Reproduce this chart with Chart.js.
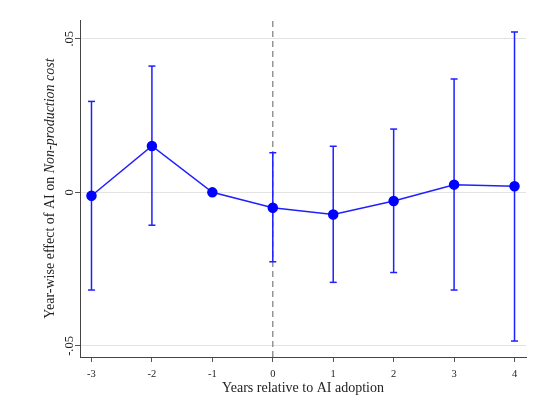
<!DOCTYPE html>
<html>
<head>
<meta charset="utf-8">
<script src="https://cdn.jsdelivr.net/npm/chart.js@4/dist/chart.umd.min.js"></script>
<style>
  html, body { margin: 0; padding: 0; background: #ffffff; }
  #wrap { width: 547px; height: 402px; }
</style>
</head>
<body>
<div id="wrap"><canvas id="c" width="547" height="402"></canvas></div>
<script>
// ---- Data ----
const years = [-3, -2, -1, 0, 1, 2, 3, 4];
const estimates = [-0.0011, 0.0151, 0.0, -0.0050, -0.0072, -0.0028, 0.0025, 0.0020];
const ciLow  = [-0.0318, -0.0107, null, -0.0226, -0.0293, -0.0261, -0.0318, -0.0484];
const ciHigh = [ 0.0296,  0.0411, null,  0.0129,  0.0150,  0.0206,  0.0369,  0.0522];
const xTicks = [-3, -2, -1, 0, 1, 2, 3, 4];
const yTicks = [-0.05, 0, 0.05];
const yTickLabels = ['-.05', '0', '.05'];
const eventYear = 0;
const xLimits = [-3.19, 4.19];
const yLimits = [-0.0536, 0.0561];
const xTitle = 'Years relative to AI adoption';
const yTitleParts = [
  { text: 'Year-wise effect of AI on ', italic: false },
  { text: 'Non-production cost', italic: true }
];

const BLUE = '#1f1fff';
const FONT = "'Liberation Serif', 'Times New Roman', serif";

const datasets = [];
datasets.push({
  label: 'estimate',
  data: years.map((x, i) => ({ x: x, y: estimates[i] })),
  showLine: true,
  borderColor: BLUE,
  borderWidth: 1.5,
  pointBackgroundColor: '#0000ff',
  pointBorderColor: '#0000ff',
  pointRadius: 4.5,
  pointHoverRadius: 4.5,
  order: 0
});
years.forEach((x, i) => {
  if (ciLow[i] === null || ciHigh[i] === null) return;
  datasets.push({
    label: 'ci' + x,
    data: [{ x: x, y: ciLow[i] }, { x: x, y: ciHigh[i] }],
    showLine: true,
    borderColor: BLUE,
    borderWidth: 1.5,
    pointStyle: 'line',
    pointRadius: 3.5,
    pointBorderColor: BLUE,
    pointBorderWidth: 1.5,
    order: 1
  });
});
datasets.push({
  label: 'event',
  data: [{ x: eventYear, y: yLimits[0] }, { x: eventYear, y: yLimits[1] }],
  showLine: true,
  borderColor: '#858585',
  borderWidth: 1.3,
  borderDash: [6, 4],
  pointRadius: 0,
  order: 2
});

const yTitlePlugin = {
  id: 'yTitle',
  afterDraw(chart) {
    const ctx = chart.ctx;
    const area = chart.chartArea;
    const size = 14;
    const fonts = yTitleParts.map(p => (p.italic ? 'italic ' : '') + size + 'px ' + FONT);
    let total = 0;
    const widths = yTitleParts.map((p, i) => { ctx.font = fonts[i]; const w = ctx.measureText(p.text).width; total += w; return w; });
    ctx.save();
    ctx.translate(50, (area.top + area.bottom) / 2);
    ctx.rotate(-Math.PI / 2);
    ctx.textBaseline = 'middle';
    ctx.textAlign = 'left';
    ctx.fillStyle = '#222';
    let cx = -total / 2;
    yTitleParts.forEach((p, i) => {
      ctx.font = fonts[i];
      ctx.fillText(p.text, cx, 0);
      cx += widths[i];
    });
    ctx.restore();
  }
};

new Chart(document.getElementById('c'), {
  type: 'scatter',
  data: { datasets: datasets },
  plugins: [yTitlePlugin],
  options: {
    responsive: false,
    animation: false,
    events: [],
    layout: { padding: { left: 0, right: 21, top: 20, bottom: 0 } },
    plugins: { legend: { display: false }, tooltip: { enabled: false } },
    scales: {
      x: {
        type: 'linear',
        min: xLimits[0],
        max: xLimits[1],
        afterBuildTicks(scale) { scale.ticks = xTicks.map(v => ({ value: v })); },
        afterFit(scale) { scale.height = 45; },
        grid: { display: true, drawOnChartArea: false, drawTicks: true, tickLength: 5, tickColor: '#555', color: '#555' },
        border: { display: true, color: '#444', width: 1 },
        ticks: {
          color: '#222',
          font: { family: FONT, size: 10.5 },
          padding: 6,
          maxRotation: 0,
          minRotation: 0,
          callback: (v) => String(v)
        },
        title: {
          display: true,
          text: xTitle,
          color: '#222',
          font: { family: FONT, size: 14 },
          padding: { top: 0, bottom: 5 }
        }
      },
      y: {
        type: 'linear',
        min: yLimits[0],
        max: yLimits[1],
        afterBuildTicks(scale) { scale.ticks = yTicks.map(v => ({ value: v })); },
        afterFit(scale) { scale.width = 80; },
        grid: { color: '#e3e3e3', lineWidth: 1, drawTicks: true, tickLength: 5, tickColor: '#555' },
        border: { display: true, color: '#444', width: 1 },
        ticks: {
          color: '#222',
          font: { family: FONT, size: 12.5 },
          padding: -4.5,
          minRotation: 90,
          maxRotation: 90,
          crossAlign: 'center',
          callback: (v) => { const i = yTicks.indexOf(v); return i >= 0 ? yTickLabels[i] : ''; }
        }
      }
    }
  }
});
</script>
</body>
</html>
